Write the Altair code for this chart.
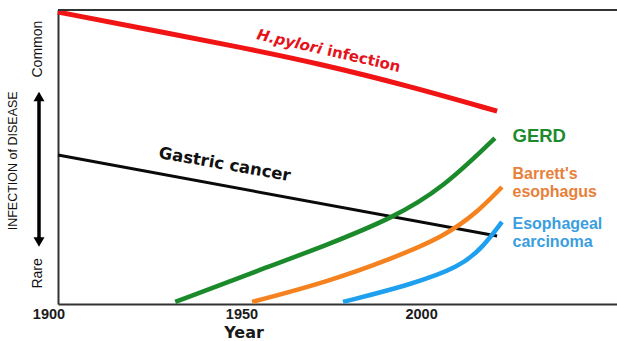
import altair as alt
import pandas as pd

# ---- data (x = year, y = relative level 0..100) ----
years_red = [1900, 1920, 1940, 1960, 1980, 2000]
vals_red = [99.3, 93.5, 87.8, 81.6, 74.1, 65.6]
years_black = [1900, 2000]
vals_black = [50.7, 23.1]
years_green = [1926.7, 1946.0, 1961.3, 1976.3, 1987.7, 1999.5]
vals_green = [0.7, 11.6, 20.1, 29.3, 39.5, 56.4]
years_orange = [1944.2, 1961.3, 1976.3, 1987.7, 1995.4, 2001.1]
vals_orange = [0.7, 7.5, 15.6, 22.8, 31.0, 39.8]
years_blue = [1964.9, 1980.2, 1991.6, 1996.8, 2001.1]
vals_blue = [0.7, 6.5, 12.6, 19.4, 27.9]

tick_labels = ["1900", "1950", "2000"]
tick_label_years = [1897.95, 1941.9, 1982.8]

X_DOMAIN = [1900, 2027.3]
Y_DOMAIN = [0, 100]
W, H = 559, 294

xs = alt.Scale(domain=X_DOMAIN, nice=False, zero=False)
ys = alt.Scale(domain=Y_DOMAIN, nice=False, zero=False)

X_AXIS = alt.Axis(
    labels=False, ticks=False, tickSize=0, grid=False, domain=True,
    domainColor="#333333", domainWidth=2, title="Year",
    titleFont="DejaVu Sans", titleFontSize=16, titleFontWeight="bold",
    titleColor="#1a1a1a", titleX=185.5, titleY=33, titleAlign="center",
    titleBaseline="alphabetic")
Y_AXIS = alt.Axis(
    labels=False, ticks=False, tickSize=0, grid=False, domain=True,
    domainColor="#333333", domainWidth=2, title=None)


def X(field="year"):
    return alt.X(f"{field}:Q", scale=xs, axis=X_AXIS)


def Y(field="level"):
    return alt.Y(f"{field}:Q", scale=ys, axis=Y_AXIS)


def series(years, vals, color, width, interp="basis"):
    df = pd.DataFrame({"year": years, "level": vals})
    return alt.Chart(df).mark_line(color=color, strokeWidth=width, interpolate=interp,
                                   strokeCap="butt").encode(x=X(), y=Y())


red = series(years_red, vals_red, "#f01414", 5)
black = series(years_black, vals_black, "#0a0a0a", 3, interp="linear")
green = series(years_green, vals_green, "#1b8a2a", 4.5)
orange = series(years_orange, vals_orange, "#f5821f", 4.5)
blue = series(years_blue, vals_blue, "#1fa0ef", 4.5)

# top frame line
top = alt.Chart(pd.DataFrame({"year": [X_DOMAIN[0]], "year2": [X_DOMAIN[1]],
                              "level": [Y_DOMAIN[1]]})).mark_rule(
    color="#333333", strokeWidth=2).encode(x=X(), x2="year2:Q", y=Y())

# x tick labels
ticks = alt.Chart(pd.DataFrame({"year": tick_label_years, "text": tick_labels})).mark_text(
    font="Liberation Sans", fontSize=14.5, fontWeight="bold", color="#1a1a1a",
    align="center", baseline="alphabetic").encode(x=X(), y=alt.value(H + 14.5),
                                                  text="text:N")


def label(text, year, level, color, size, angle=0, font="Liberation Sans", style="normal",
          align="left", line_height=18):
    df = pd.DataFrame({"year": [year], "level": [level], "text": [text]})
    return alt.Chart(df).mark_text(
        font=font, fontSize=size, fontWeight="bold", fontStyle=style, color=color,
        angle=angle, align=align, baseline="alphabetic", lineBreak="\n",
        lineHeight=line_height).encode(x=X(), y=Y(), text="text:N")


# in-plot labels
label_texts = ["H.pylori", "infection", "Gastric cancer", "GERD", "Barrett's\nesophagus",
               "Esophageal\ncarcinoma"]
label_years = [1945.1, 1961.1, 1922.8, 2003.5, 2003.5, 2003.5]
label_levels = [90.1, 84.6, 49.7, 55.2, 42.5, 25.5]

labels = [
    label(label_texts[0], label_years[0], label_levels[0], "#e5141c", 15, angle=13,
          font="DejaVu Sans", style="italic"),
    label(label_texts[1], label_years[1], label_levels[1], "#e5141c", 15, angle=13,
          font="DejaVu Sans"),
    label(label_texts[2], label_years[2], label_levels[2], "#111111", 16.5, angle=10,
          font="DejaVu Sans"),
    label(label_texts[3], label_years[3], label_levels[3], "#1e8a30", 18.5),
    label(label_texts[4], label_years[4], label_levels[4], "#e8803a", 16, line_height=18),
    label(label_texts[5], label_years[5], label_levels[5], "#3a9ee0", 16, line_height=18),
]

# y-side annotations
side_texts = ["Common", "Rare", "INFECTION of DISEASE"]
side_levels = [86.7, 10.4, 48.7]
side_x = [-16.3, -16.3, -41.3]
side_sizes = [14, 14, 12.5]

side = []
for t, lv, sx, sz in zip(side_texts, side_levels, side_x, side_sizes):
    side.append(alt.Chart(pd.DataFrame({"level": [lv], "text": [t]})).mark_text(
        font="Liberation Sans", fontSize=sz, color="#111111",
        angle=270, align="center", baseline="alphabetic").encode(
        x=alt.value(sx), y=Y(), text="text:N"))

arrow_top, arrow_bottom = 70.6, 21.1
shaft = alt.Chart(pd.DataFrame({"level": [arrow_top], "level2": [arrow_bottom]})).mark_rule(
    color="#000000", strokeWidth=3.5).encode(x=alt.value(-19), y=Y(), y2="level2:Q")
head_up = alt.Chart(pd.DataFrame({"level": [arrow_top]})).mark_point(
    shape="triangle-up", filled=True, size=121, color="#000000", opacity=1).encode(
    x=alt.value(-19), y=Y())
head_down = alt.Chart(pd.DataFrame({"level": [arrow_bottom]})).mark_point(
    shape="triangle-down", filled=True, size=121, color="#000000", opacity=1).encode(
    x=alt.value(-19), y=Y())

chart = alt.layer(red, black, green, orange, blue, top, ticks, *labels, *side,
                  shaft, head_up, head_down).properties(
    width=W, height=H,
    autosize=alt.AutoSizeParams(type="none"),
    padding={"left": 58, "top": 10, "right": 0, "bottom": 37},
    background="white",
).configure_view(stroke=None)

chart.save("out.html", embed_options={"renderer": "svg", "actions": False})
